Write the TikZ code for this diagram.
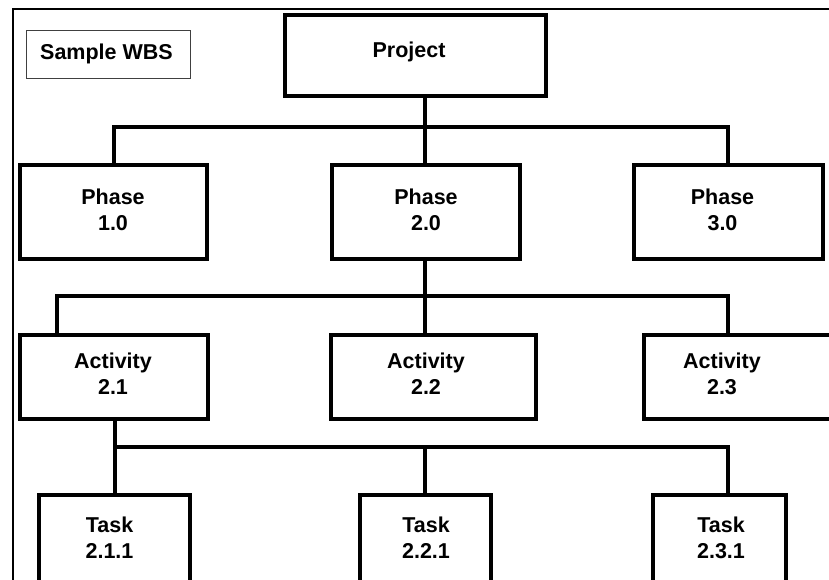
\documentclass[tikz,border=0pt]{standalone}
\usepackage{fontspec}
\setmainfont{Liberation Sans}
\begin{document}
\begin{tikzpicture}[x=1pt,y=-1pt,
  box/.style={draw=black, line width=4pt, fill=white, inner sep=0pt, outer sep=0pt},
  titlebox/.style={draw=black!75, line width=1.3pt, fill=white, inner sep=0pt, outer sep=0pt},
  conn/.style={draw=black, line width=4pt, line join=miter},
  lbl/.style={font=\fontsize{21.5}{25.5}\selectfont\bfseries, align=center,
              inner sep=0pt, anchor=base, text=black},
]
\useasboundingbox (0,0) rectangle (829,579);

% page frame
\draw[line width=1.8pt] (13,590) -- (13,9) -- (835,9);

% title
\node[titlebox, minimum width=164pt, minimum height=48pt] (title) at (108.5,54.5) {};
\node[lbl] (titletext) at (106.5,59) {Sample WBS};

% level 0
\node[box, minimum width=261pt, minimum height=81pt] (proj) at (415.5,55.5) {};
\node[lbl] (projtext) at (409,57) {Project};

% level 1: phases (label anchored at the baseline of its last line)
\node[box, minimum width=187pt, minimum height=94pt] (ph1) at (113.5,212) {};
\node[box, minimum width=188pt, minimum height=94pt] (ph2) at (426,212) {};
\node[box, minimum width=189pt, minimum height=94pt] (ph3) at (728.5,212) {};
\node[lbl] (ph1text) at (113,230) {Phase\\1.0};
\node[lbl] (ph2text) at (426,230) {Phase\\2.0};
\node[lbl] (ph3text) at (722.5,230) {Phase\\3.0};

% level 2: activities
\node[box, minimum width=188pt, minimum height=84pt] (ac1) at (114,377) {};
\node[box, minimum width=205pt, minimum height=84pt] (ac2) at (433.5,377) {};
\node[box, minimum width=192pt, minimum height=84pt] (ac3) at (740,377) {};
\node[lbl] (ac1text) at (113,394) {Activity\\2.1};
\node[lbl] (ac2text) at (426,394) {Activity\\2.2};
\node[lbl] (ac3text) at (722,394) {Activity\\2.3};

% level 3: tasks
\node[box, minimum width=151pt, minimum height=105pt] (tk1) at (114.5,547.5) {};
\node[box, minimum width=131pt, minimum height=105pt] (tk2) at (425.5,547.5) {};
\node[box, minimum width=133pt, minimum height=105pt] (tk3) at (719.5,547.5) {};
\node[lbl] (tk1text) at (109.5,558) {Task\\2.1.1};
\node[lbl] (tk2text) at (426,558) {Task\\2.2.1};
\node[lbl] (tk3text) at (721,558) {Task\\2.3.1};

% bus bars
\coordinate (b1l) at (114,126.5);
\coordinate (b1m) at (425,126.5);
\coordinate (b1r) at (727.5,126.5);
\coordinate (b2l) at (57,296);
\coordinate (b2m) at (425,296);
\coordinate (b2r) at (728,296);
\coordinate (b3l) at (115,446.5);
\coordinate (b3m) at (425,446.5);
\coordinate (b3r) at (728,446.5);

% project -> phases
\draw[conn] (proj.south -| b1m) -- (ph2.north -| b1m);
\draw[conn] (ph1.north -| b1l) -- (b1l) -- (b1r) -- (ph3.north -| b1r);

% phase 2.0 -> activities
\draw[conn] (ph2.south -| b2m) -- (ac2.north -| b2m);
\draw[conn] (ac1.north -| b2l) -- (b2l) -- (b2r) -- (ac3.north -| b2r);

% activity 2.1 -> tasks
\draw[conn] (ac1.south -| b3l) -- (tk1.north -| b3l);
\draw[conn] (b3l) -- (b3r) -- (tk3.north -| b3r);
\draw[conn] (b3m) -- (tk2.north -| b3m);
\end{tikzpicture}
\end{document}
